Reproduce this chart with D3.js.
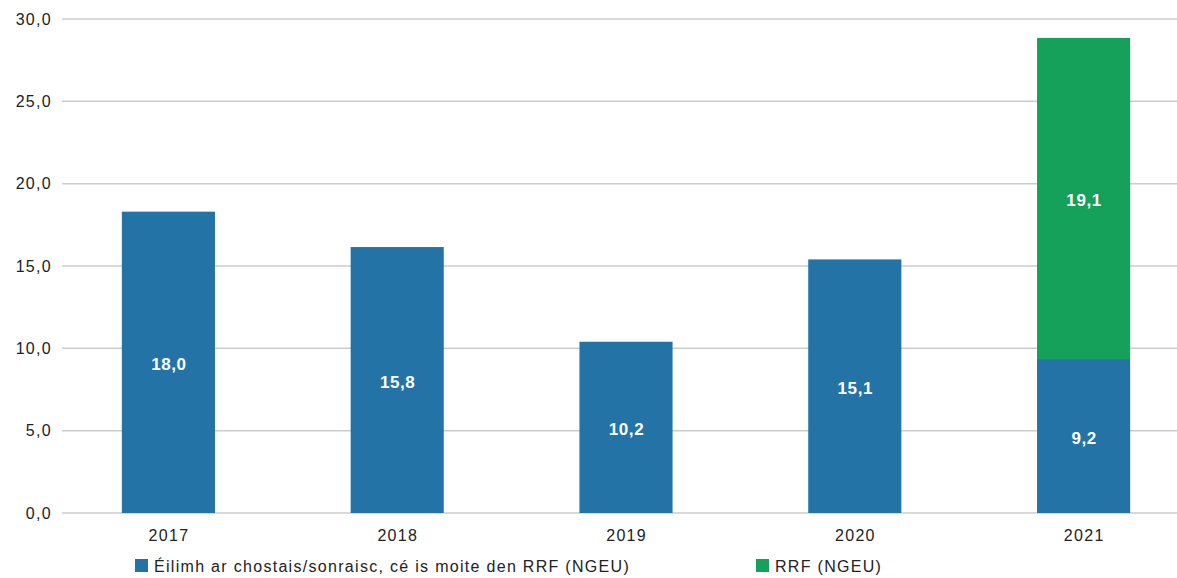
<!DOCTYPE html>
<html>
<head>
<meta charset="utf-8">
<script src="https://cdn.jsdelivr.net/npm/d3@7"></script>
<style>
  body { margin: 0; background: #fff; }
  svg { display: block; font-family: "Liberation Sans", Arial, sans-serif; }
</style>
</head>
<body>
<div id="chart"></div>
<script>
// values
const years = ["2017", "2018", "2019", "2020", "2021"];
const claims = [18.3, 16.15, 10.4, 15.4, 9.35];     // bar heights, blue
const rrf = [0, 0, 0, 0, 19.5];                      // bar heights, green
const claimsLabels = ["18,0", "15,8", "10,2", "15,1", "9,2"];
const rrfLabels = ["", "", "", "", "19,1"];
const yTicks = [0, 5, 10, 15, 20, 25, 30];
const seriesNames = ["Éilimh ar chostais/sonraisc, cé is moite den RRF (NGEU)", "RRF (NGEU)"];
const colors = ["#2473a6", "#16a15b"];

const width = 1177, height = 578;
const gridLeft = 62, gridRight = 1177;

const svg = d3.select("#chart")
    .append("svg")
    .attr("width", width)
    .attr("height", height);

const x = d3.scaleBand()
    .domain(years)
    .range([54, 1198])
    .paddingInner(0.593)
    .paddingOuter(0.2965);

const y = d3.scaleLinear()
    .domain([0, 30])
    .range([513, 19]);

// gridlines
svg.append("g")
    .selectAll("line")
    .data(yTicks)
    .join("line")
    .attr("x1", gridLeft)
    .attr("x2", gridRight)
    .attr("y1", d => y(d))
    .attr("y2", d => y(d))
    .attr("stroke", "#cccccc")
    .attr("stroke-width", 1.5);

// y tick labels
svg.append("g")
    .selectAll("text")
    .data(yTicks)
    .join("text")
    .attr("x", 52)
    .attr("y", d => y(d))
    .attr("dy", "0.35em")
    .attr("text-anchor", "end")
    .attr("fill", "#222")
    .style("font-size", "16px")
    .style("letter-spacing", "1.3px")
    .text(d => d3.format(".1f")(d).replace(".", ","));

// stacked data
const rows = years.map((yr, i) => ({ year: yr, claims: claims[i], rrf: rrf[i] }));
const stack = d3.stack().keys(["claims", "rrf"]);
const series = stack(rows);
const labels = [claimsLabels, rrfLabels];

series.forEach((s, si) => {
    const g = svg.append("g");
    g.selectAll("rect")
        .data(s.filter(d => d[1] - d[0] > 0))
        .join("rect")
        .attr("x", d => x(d.data.year))
        .attr("width", x.bandwidth())
        .attr("y", d => y(d[1]))
        .attr("height", d => y(d[0]) - y(d[1]))
        .attr("fill", colors[si]);

    g.selectAll("text")
        .data(s.map((d, i) => ({ d, label: labels[si][i] })).filter(o => o.label))
        .join("text")
        .attr("x", o => x(o.d.data.year) + x.bandwidth() / 2 + 0.5)
        .attr("y", o => (y(o.d[0]) + y(o.d[1])) / 2 + 2)
        .attr("dy", "0.35em")
        .attr("text-anchor", "middle")
        .attr("fill", "#fff")
        .style("font-size", "17px")
        .style("font-weight", "bold")
        .style("letter-spacing", "0.6px")
        .text(o => o.label);
});

// x labels
svg.append("g")
    .selectAll("text")
    .data(years)
    .join("text")
    .attr("x", d => x(d) + x.bandwidth() / 2 + 0.6)
    .attr("y", 535)
    .attr("dy", "0.35em")
    .attr("text-anchor", "middle")
    .attr("fill", "#222")
    .style("font-size", "16px")
    .style("letter-spacing", "1.3px")
    .text(d => d);

// legend
const legendX = [135, 756];
const legend = svg.append("g")
    .selectAll("g")
    .data(seriesNames)
    .join("g")
    .attr("transform", (d, i) => `translate(${legendX[i]},566)`);

legend.append("rect")
    .attr("x", 0)
    .attr("y", -7)
    .attr("width", 13)
    .attr("height", 13)
    .attr("fill", (d, i) => colors[i]);

legend.append("text")
    .attr("x", 19)
    .attr("y", 0)
    .attr("dy", "0.35em")
    .attr("fill", "#222")
    .style("font-size", "16px")
    .style("letter-spacing", "1.3px")
    .text(d => d);
</script>
</body>
</html>
